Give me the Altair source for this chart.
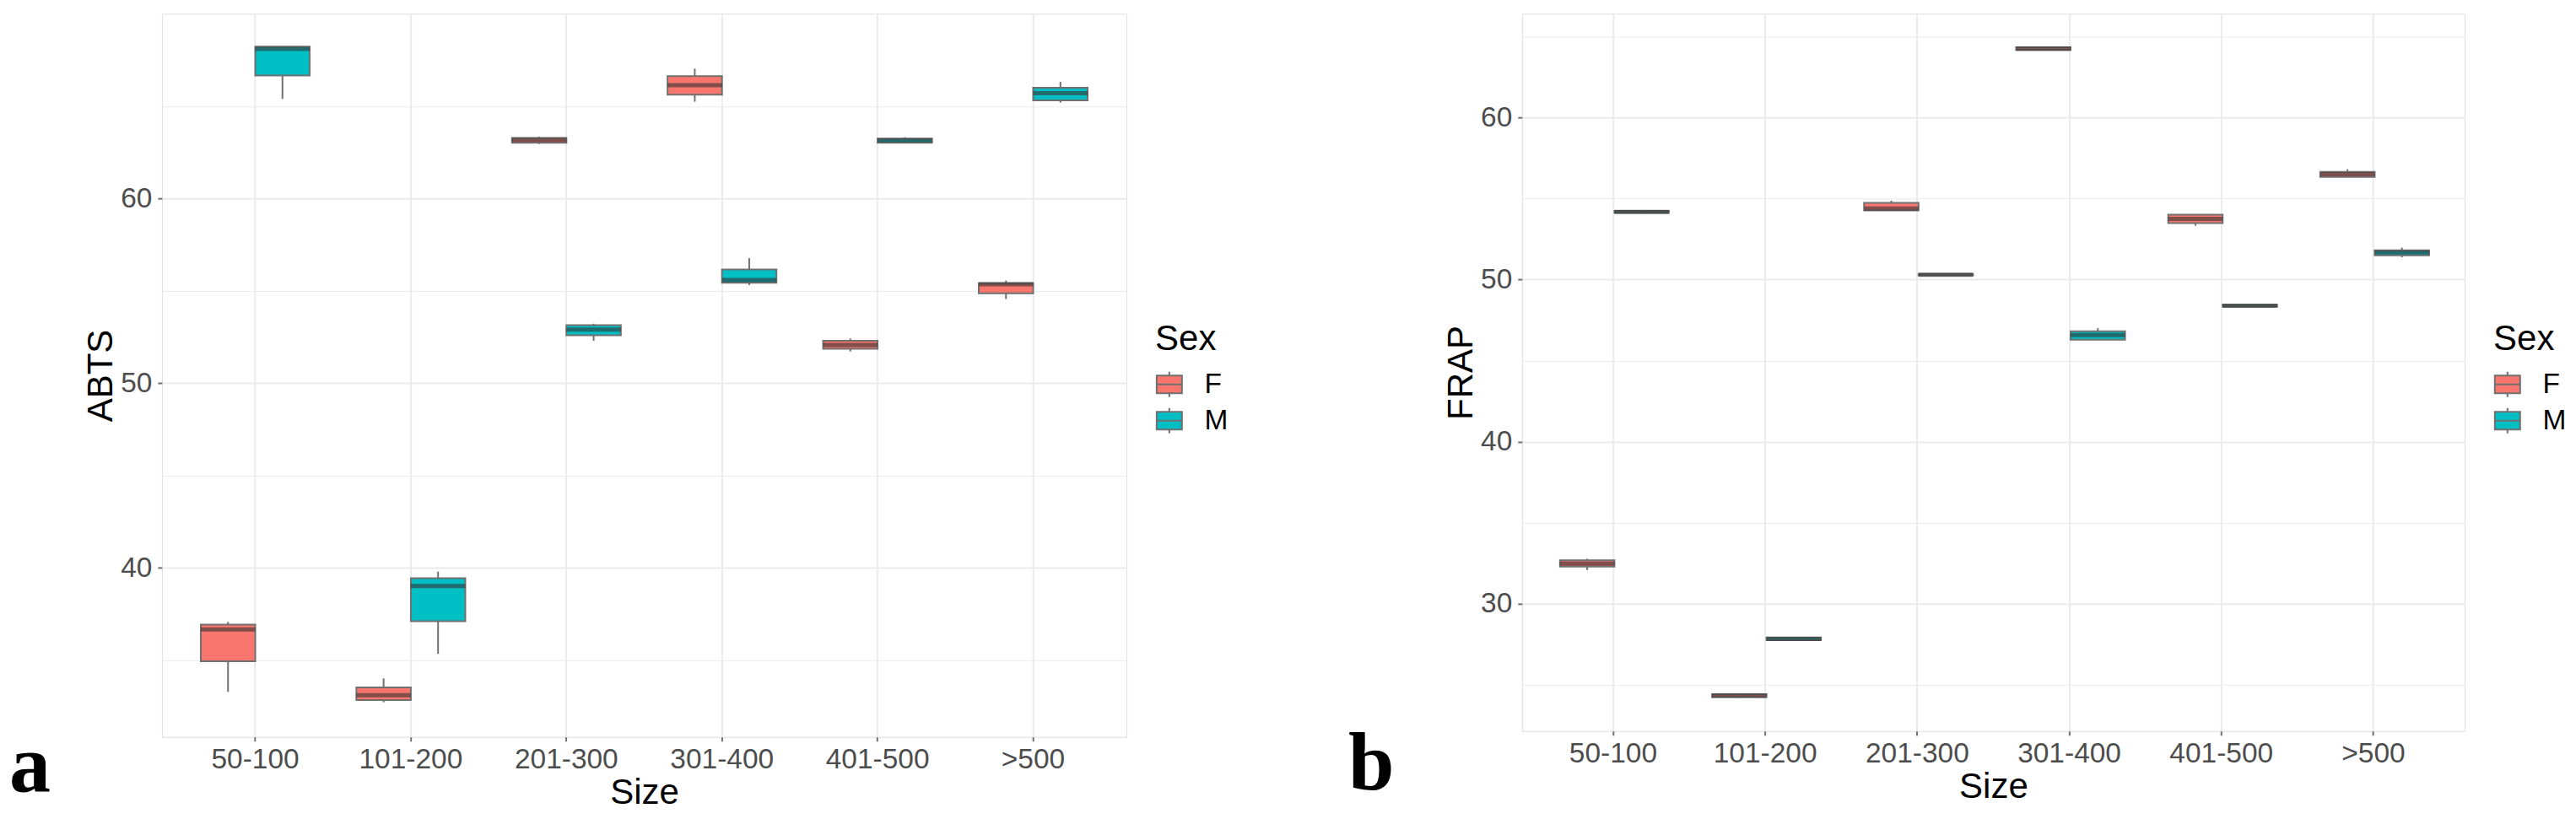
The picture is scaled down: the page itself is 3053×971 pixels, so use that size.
import altair as alt
import pandas as pd

sizes = ["50-100", "101-200", "201-300", "301-400", "401-500", ">500"]
sexes = ["F", "M"]
colors = ["#F8766D", "#00BFC4"]

# ABTS (panel a): whisker low, Q1, median, Q3, whisker high
abts_F_lo = [33.29, 32.73, 62.95, 65.24, 51.72, 54.56]
abts_F_q1 = [34.95, 32.85, 63.02, 65.62, 51.87, 54.87]
abts_F_md = [36.67, 33.11, 63.17, 66.13, 52.07, 55.36]
abts_F_q3 = [36.93, 33.53, 63.28, 66.62, 52.30, 55.41]
abts_F_hi = [37.08, 34.02, 63.35, 67.03, 52.42, 55.56]

abts_M_lo = [65.39, 35.35, 52.30, 55.31, 63.00, 65.19]
abts_M_q1 = [66.66, 37.12, 52.60, 55.44, 63.02, 65.31]
abts_M_md = [68.10, 39.02, 52.90, 55.59, 63.14, 65.70]
abts_M_q3 = [68.22, 39.44, 53.14, 56.16, 63.25, 66.00]
abts_M_hi = [68.22, 39.80, 53.22, 56.77, 63.32, 66.31]

# FRAP (panel b)
frap_F_lo = [32.08, 24.20, 54.27, 64.15, 53.32, 56.34]
frap_F_q1 = [32.29, 24.25, 54.27, 64.17, 53.49, 56.34]
frap_F_md = [32.48, 24.34, 54.39, 64.25, 53.75, 56.51]
frap_F_q3 = [32.69, 24.42, 54.74, 64.33, 54.01, 56.65]
frap_F_hi = [32.78, 24.45, 54.87, 64.35, 54.01, 56.81]

frap_M_lo = [54.10, 27.72, 50.25, 46.29, 48.32, 51.38]
frap_M_q1 = [54.12, 27.75, 50.26, 46.29, 48.33, 51.50]
frap_M_md = [54.18, 27.83, 50.30, 46.58, 48.39, 51.68]
frap_M_q3 = [54.24, 27.92, 50.35, 46.81, 48.45, 51.81]
frap_M_hi = [54.30, 27.95, 50.36, 47.01, 48.46, 51.97]

abts_ticks = [35, 40, 45, 50, 55, 60, 65]
frap_ticks = [25, 30, 35, 40, 45, 50, 55, 60, 65]


def build(F, M):
    rows = []
    for sx, arrs in (("F", F), ("M", M)):
        lo, q1, md, q3, hi = arrs
        for i, s in enumerate(sizes):
            rows.append({"Size": s, "Sex": sx, "lo": lo[i], "q1": q1[i],
                         "med": md[i], "q3": q3[i], "hi": hi[i]})
    return pd.DataFrame(rows)


abts_df = build((abts_F_lo, abts_F_q1, abts_F_md, abts_F_q3, abts_F_hi),
                (abts_M_lo, abts_M_q1, abts_M_md, abts_M_q3, abts_M_hi))
frap_df = build((frap_F_lo, frap_F_q1, frap_F_md, frap_F_q3, frap_F_hi),
                (frap_M_lo, frap_M_q1, frap_M_md, frap_M_q3, frap_M_hi))

SANS = "Liberation Sans"
LINE = "#707070"
KEY = "M-1,-0.7H1V0.7H-1Z M-1,0H1 M0,-0.7V-1 M0,0.7V1"


def panel(df, ytitle, domain, ticks, W, H, letter, lx, ly):
    x = alt.X("Size:N", sort=sizes, title="Size",
              scale=alt.Scale(paddingInner=0.3, paddingOuter=0.25),
              axis=alt.Axis(labelAngle=0, labelFont=SANS, labelFontSize=33.5,
                            labelColor="#4d4d4d", labelPadding=6, tickSize=5,
                            tickColor=LINE, tickWidth=2, domain=False,
                            grid=True, gridColor="#ebebeb", gridWidth=2,
                            titleFont=SANS, titleFontSize=42,
                            titleFontWeight="normal", titleColor="black",
                            titlePadding=2))
    xo = alt.XOffset("Sex:N", sort=sexes,
                     scale=alt.Scale(paddingInner=0, paddingOuter=0))
    yscale = alt.Scale(domain=domain, nice=False, zero=False)
    yaxis = alt.Axis(values=ticks,
                     labelExpr="datum.value % 10 === 0 ? datum.label : ''",
                     labelFont=SANS, labelFontSize=33.5, labelColor="#4d4d4d",
                     labelPadding=7, tickSize=5, tickColor=LINE, tickWidth=2,
                     tickOpacity={"condition": {"test": "datum.value % 10 === 0", "value": 1}, "value": 0},
                     domain=False, grid=True, gridColor="#ebebeb",
                     gridWidth={"condition": {"test": "datum.value % 10 === 0", "value": 2}, "value": 1},
                     titleFont=SANS, titleFontSize=42, titleFontWeight="normal",
                     titleColor="black", titlePadding=1)
    base = alt.Chart(df)
    whisk = base.mark_rule(color=LINE, strokeWidth=2).encode(
        x=x, xOffset=xo,
        y=alt.Y("lo:Q", scale=yscale, axis=yaxis, title=ytitle),
        y2="hi:Q")
    box = base.mark_bar(stroke=LINE, strokeWidth=2).encode(
        x=x, xOffset=xo,
        y=alt.Y("q1:Q", scale=yscale, axis=yaxis, title=ytitle),
        y2="q3:Q",
        color=alt.Color("Sex:N", sort=sexes,
                        scale=alt.Scale(domain=sexes, range=colors),
                        legend=alt.Legend(title="Sex", orient="none",
                                          legendX=W + 34, legendY=366,
                                          padding=0, titleFont=SANS,
                                          titleFontSize=42,
                                          titleFontWeight="normal",
                                          titleColor="black", titlePadding=15,
                                          labelFont=SANS, labelFontSize=33.5,
                                          labelColor="black", labelOffset=25,
                                          symbolType=KEY, symbolSize=900,
                                          symbolStrokeColor=LINE,
                                          symbolStrokeWidth=2,
                                          symbolOpacity=1,
                                          rowPadding=4)))
    med = base.mark_bar(stroke="#333333", strokeWidth=5, strokeOpacity=0.6,
                        fillOpacity=0).encode(
        x=x, xOffset=xo,
        y=alt.Y("med:Q", scale=yscale, axis=yaxis, title=ytitle),
        y2="med:Q")
    lab = alt.Chart(pd.DataFrame({"t": [letter]})).mark_text(
        font="Liberation Serif", fontWeight="bold", fontSize=98,
        align="left", baseline="alphabetic", color="black").encode(
        text="t:N", x=alt.value(lx), y=alt.value(ly))
    return alt.layer(whisk, box, med, lab).properties(width=W, height=H)


pa = panel(abts_df, "ABTS", [30.85, 70.0], abts_ticks, 1144, 858, "a", -181, 922)
pb = panel(frap_df, "FRAP", [22.15, 66.4], frap_ticks, 1118, 851, "b", -206, 920)

chart = alt.hconcat(pa, pb, spacing=469, bounds="flush").resolve_legend(
    color="independent").resolve_scale(y="independent").properties(
    padding={"left": 2, "top": 7, "right": 2, "bottom": 2}
).configure_view(stroke="#8c8c8c", strokeWidth=3).configure(background="white")

chart.save("out.html", embed_options={"renderer": "svg", "actions": False})
